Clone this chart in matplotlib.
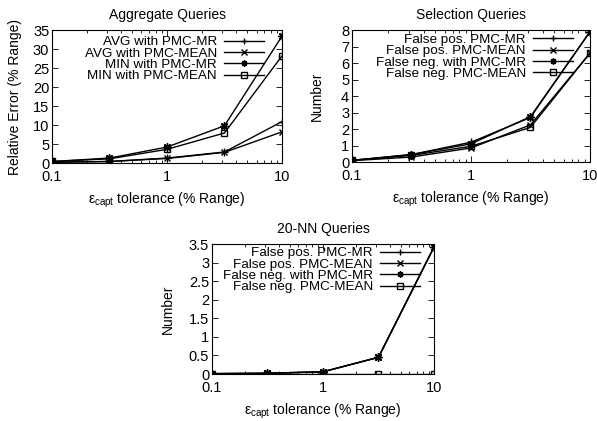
import matplotlib
matplotlib.use("Agg")
import matplotlib.pyplot as plt
from matplotlib.ticker import LogLocator, FixedLocator, NullFormatter

plt.rcParams['font.family'] = ['Liberation Sans', 'DejaVu Sans']
plt.rcParams['font.size'] = 10

x_tol = [0.1, 0.316, 1, 3.16, 10]
x_ticks = [0.1, 1, 10]
x_ticklabels = ["0.1", "1", "10"]

agg_labels = ["AVG with PMC-MR", "AVG with PMC-MEAN", "MIN with PMC-MR", "MIN with PMC-MEAN"]
agg_avg_mr = [0.2, 0.4, 1.3, 2.9, 10.9]
agg_avg_mean = [0.2, 0.4, 1.2, 2.8, 8.2]
agg_min_mr = [0.4, 1.3, 4.2, 9.8, 33.4]
agg_min_mean = [0.4, 1.1, 3.6, 7.9, 28.2]

sel_labels = ["False pos. PMC-MR", "False pos. PMC-MEAN", "False neg. with PMC-MR", "False neg. PMC-MEAN"]
sel_fp_mr = [0.1, 0.45, 1.2, 2.7, 7.9]
sel_fp_mean = [0.08, 0.3, 0.85, 2.25, 6.6]
sel_fn_mr = [0.1, 0.45, 1.1, 2.75, 7.9]
sel_fn_mean = [0.1, 0.4, 0.95, 2.1, 6.6]

nn_labels = ["False pos. PMC-MR", "False pos. PMC-MEAN", "False neg. with PMC-MR", "False neg. PMC-MEAN"]
nn_fp_mr = [0.01, 0.02, 0.06, 0.45, 3.42]
nn_fp_mean = [0.01, 0.02, 0.06, 0.45, 3.42]
nn_fn_mr = [0.01, 0.02, 0.06, 0.45, 3.42]
nn_fn_mean = [0.0, 0.0, 0.0, 0.0, 0.0]

markers = ['+', 'x', (8, 2, 0), 's']
msizes = [6, 5, 6, 5]

fig = plt.figure(figsize=(5.97, 4.21), dpi=100)
ax1 = fig.add_axes([0.0871, 0.6128, 0.3853, 0.3159])
ax2 = fig.add_axes([0.5896, 0.6152, 0.3987, 0.3135])
ax3 = fig.add_axes([0.3551, 0.1116, 0.3719, 0.3088])

def style(ax, title, ylabel, yticks, ylim, series, labels, yfmt, leg_anchor, ylabelpad):
    for s, lab, m, ms in zip(series, labels, markers, msizes):
        ax.plot(x_tol, s, color='black', lw=1.0, marker=m, ms=ms,
                mfc='none' if m == 's' else 'black', mec='black', mew=1.0, label=lab)
    ax.set_xscale('log')
    ax.set_xlim(0.1, 10)
    ax.set_ylim(*ylim)
    ax.xaxis.set_major_locator(FixedLocator(x_ticks))
    ax.set_xticklabels(x_ticklabels)
    ax.xaxis.set_minor_locator(LogLocator(base=10, subs=range(2, 10)))
    ax.xaxis.set_minor_formatter(NullFormatter())
    ax.set_yticks(yticks)
    ax.set_yticklabels([yfmt(v) for v in yticks])
    ax.tick_params(which='major', direction='in', length=4, width=0.6, top=True, right=True, labelsize=10.5)
    ax.tick_params(axis='x', which='major', pad=5)
    ax.tick_params(axis='y', which='major', pad=2)
    ax.tick_params(which='minor', direction='in', length=2.5, width=0.6, top=True, right=True)
    for sp in ax.spines.values():
        sp.set_linewidth(0.8)
    ax.set_title(title, fontsize=10, pad=8)
    ax.set_ylabel(ylabel, fontsize=10, labelpad=ylabelpad)
    ax.set_xlabel("ε$_{\\mathregular{capt}}$ tolerance (% Range)", fontsize=10, labelpad=5)
    leg = ax.legend(loc='upper right', bbox_to_anchor=leg_anchor, markerfirst=False, frameon=False,
                    numpoints=1, handlelength=3.0, handletextpad=0.5, labelspacing=-0.08,
                    borderaxespad=0, borderpad=0, fontsize=9.7)
    for h in leg.legend_handles:
        h.set_markersize(4.5)

def fmt_int(v):
    return "%d" % v

def fmt_g(v):
    return ("%g" % v)

style(ax1, "Aggregate Queries", "Relative Error (% Range)", [0, 5, 10, 15, 20, 25, 30, 35], (0, 35),
      [agg_avg_mr, agg_avg_mean, agg_min_mr, agg_min_mean], agg_labels, fmt_int, (0.922, 0.955), 8)
style(ax2, "Selection Queries", "Number", [0, 1, 2, 3, 4, 5, 6, 7, 8], (0, 8),
      [sel_fp_mr, sel_fp_mean, sel_fn_mr, sel_fn_mean], sel_labels, fmt_int, (0.929, 0.973), 12)
style(ax3, "20-NN Queries", "Number", [0, 0.5, 1, 1.5, 2, 2.5, 3, 3.5], (0, 3.5),
      [nn_fp_mr, nn_fp_mean, nn_fn_mr, nn_fn_mean], nn_labels, fmt_g, (0.937, 0.977), 10)

fig.savefig("out.png", dpi=100)
